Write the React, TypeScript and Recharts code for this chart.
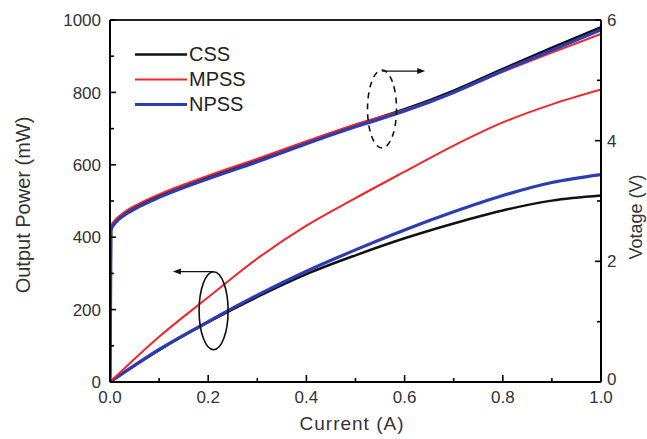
import React from "react";
import {
  LineChart,
  Line,
  XAxis,
  YAxis,
  ReferenceLine,
  ReferenceDot,
} from "recharts";

// Voltage curves (right axis), current in A
const vCurrent = [0, 0.002, 0.01, 0.03, 0.06, 0.1, 0.2, 0.3, 0.4, 0.5, 0.6, 0.7, 0.8, 0.9, 1.0];
const cssVoltage = [0, 2.56, 2.66, 2.8, 2.94, 3.09, 3.4, 3.68, 3.98, 4.26, 4.52, 4.83, 5.19, 5.54, 5.88];
const mpssVoltage = [0, 2.58, 2.68, 2.82, 2.96, 3.11, 3.42, 3.7, 3.99, 4.27, 4.51, 4.8, 5.14, 5.46, 5.77];
const npssVoltage = [0, 2.52, 2.63, 2.77, 2.91, 3.06, 3.37, 3.65, 3.95, 4.23, 4.49, 4.8, 5.16, 5.5, 5.84];

// Output power curves (left axis), mW
const pCurrent = [0, 0.1, 0.2, 0.3, 0.4, 0.5, 0.6, 0.7, 0.8, 0.9, 1.0];
const cssPower = [0, 88, 165, 235, 298, 350, 397, 438, 474, 501, 515];
const mpssPower = [0, 125, 234, 341, 432, 508, 581, 653, 717, 767, 808];
const npssPower = [0, 90, 167, 240, 306, 365, 420, 470, 515, 551, 573];

const xTicks = [0, 0.1, 0.2, 0.3, 0.4, 0.5, 0.6, 0.7, 0.8, 0.9, 1.0];
const powerTicks = [0, 100, 200, 300, 400, 500, 600, 700, 800, 900, 1000];
const voltTicks = [0, 1, 2, 3, 4, 5, 6];

const seriesNames = ["CSS", "MPSS", "NPSS"];
const COLORS = { CSS: "#111111", MPSS: "#f0262a", NPSS: "#2c3db3" };
const WIDTHS = { CSS: 2.5, MPSS: 2, NPSS: 3.2 };

const FONT = "'Liberation Sans', Arial, sans-serif";
const TEXT = "#333";

const toPts = (xs: number[], ys: number[]) => xs.map((x, i) => ({ x, y: ys[i] }));

const LeftTick = (props: any) => {
  const { x, y, payload } = props;
  const v = payload.value;
  const major = v % 200 === 0;
  return (
    <g>
      <line x1={x} x2={x + (major ? 6 : 4)} y1={y} y2={y} stroke="#000" strokeWidth={1.6} />
      {major && (
        <text x={x - 9} y={y} dy="0.36em" textAnchor="end" fontSize={17} fontFamily={FONT} fill={TEXT}>
          {v}
        </text>
      )}
    </g>
  );
};

const RightTick = (props: any) => {
  const { x, y, payload } = props;
  const v = payload.value;
  const major = v % 2 === 0;
  return (
    <g>
      <line x1={x} x2={x - (major ? 6 : 4)} y1={y} y2={y} stroke="#000" strokeWidth={1.6} />
      {major && (
        <text x={x + 6} y={v === 0 ? y - 3 : y} dy="0.36em" textAnchor="start" fontSize={17} fontFamily={FONT} fill={TEXT}>
          {v}
        </text>
      )}
    </g>
  );
};

const BottomTick = (props: any) => {
  const { x, y, payload } = props;
  const v = payload.value;
  const major = Math.round(v * 10) % 2 === 0;
  return (
    <g>
      <line x1={x} x2={x} y1={y} y2={y - (major ? 7 : 4)} stroke="#000" strokeWidth={1.6} />
      {major && (
        <text x={x} y={y + 21} textAnchor="middle" fontSize={17} fontFamily={FONT} fill={TEXT}>
          {v.toFixed(1)}
        </text>
      )}
    </g>
  );
};

const ellipseShape = (dashed: boolean) => (props: any) => (
  <ellipse
    cx={props.cx}
    cy={props.cy}
    rx={14.5}
    ry={39}
    fill="none"
    stroke="#111"
    strokeWidth={1.6}
    strokeDasharray={dashed ? "6 5" : undefined}
  />
);

const arrowShape = (props: any) => {
  const { x1, y1, x2, y2 } = props;
  const dir = x2 > x1 ? 1 : -1;
  return (
    <g>
      <line x1={x1} y1={y1} x2={x2 - dir * 5} y2={y2} stroke="#111" strokeWidth={1.2} />
      <polygon
        points={`${x2},${y2} ${x2 - dir * 8},${y2 - 3} ${x2 - dir * 8},${y2 + 3}`}
        fill="#111"
      />
    </g>
  );
};

const LegendBox = () => (
  <div
    style={{
      position: "absolute",
      left: 135,
      top: 42,
      fontFamily: FONT,
      fontSize: 20,
      color: "#222",
    }}
  >
    {seriesNames.map((name) => (
      <div key={name} style={{ display: "flex", alignItems: "center", height: 25 }}>
        <svg width={54} height={25} style={{ display: "block" }}>
          <line
            x1={0}
            x2={52}
            y1={12.5}
            y2={12.5}
            stroke={(COLORS as any)[name]}
            strokeWidth={(WIDTHS as any)[name]}
          />
        </svg>
        <span style={{ lineHeight: "25px" }}>{name}</span>
      </div>
    ))}
  </div>
);

export default function App() {
  return (
    <div style={{ position: "absolute", left: 0, top: 0, width: 647, height: 439, background: "#fff" }}>
      <LineChart width={647} height={439} margin={{ top: 20, right: 0, left: 0, bottom: 0 }}>
        <XAxis
          dataKey="x"
          type="number"
          domain={[0, 1]}
          ticks={xTicks}
          tick={<BottomTick />}
          tickSize={0}
          tickMargin={0}
          tickLine={false}
          axisLine={{ stroke: "#000", strokeWidth: 2 }}
          height={57}
          allowDataOverflow
          label={{
            content: () => (
              <text x={352} y={430} textAnchor="middle" fontSize={19} fontFamily={FONT} fill={TEXT} letterSpacing={1}>
                Current (A)
              </text>
            ),
          }}
        />
        <YAxis
          yAxisId="left"
          dataKey="y"
          type="number"
          domain={[0, 1000]}
          ticks={powerTicks}
          tick={<LeftTick />}
          tickSize={0}
          tickMargin={0}
          tickLine={false}
          axisLine={{ stroke: "#000", strokeWidth: 2 }}
          width={110}
          label={{
            content: () => (
              <text
                x={30}
                y={205}
                transform="rotate(-90, 30, 205)"
                textAnchor="middle"
                fontSize={20}
                fontFamily={FONT}
                fill={TEXT}
              >
                Output Power (mW)
              </text>
            ),
          }}
        />
        <YAxis
          yAxisId="right"
          orientation="right"
          dataKey="y"
          type="number"
          domain={[0, 6]}
          ticks={voltTicks}
          tick={<RightTick />}
          tickSize={0}
          tickMargin={0}
          tickLine={false}
          axisLine={{ stroke: "#000", strokeWidth: 2 }}
          width={46}
          label={{
            content: () => (
              <text
                x={642}
                y={217}
                transform="rotate(-90, 642, 217)"
                textAnchor="middle"
                fontSize={18}
                fontFamily={FONT}
                fill={TEXT}
              >
                Votage (V)
              </text>
            ),
          }}
        />
        <ReferenceLine yAxisId="left" y={1000} stroke="#222" strokeWidth={2} />

        {/* output power (left axis) */}
        <Line yAxisId="left" data={toPts(pCurrent, cssPower)} dataKey="y" type="monotone" stroke={COLORS.CSS} strokeWidth={WIDTHS.CSS} dot={false} isAnimationActive={false} name="CSS" />
        <Line yAxisId="left" data={toPts(pCurrent, npssPower)} dataKey="y" type="monotone" stroke={COLORS.NPSS} strokeWidth={WIDTHS.NPSS} dot={false} isAnimationActive={false} name="NPSS" />
        <Line yAxisId="left" data={toPts(pCurrent, mpssPower)} dataKey="y" type="monotone" stroke={COLORS.MPSS} strokeWidth={WIDTHS.MPSS} dot={false} isAnimationActive={false} name="MPSS" />

        {/* voltage (right axis) */}
        <Line yAxisId="right" data={toPts(vCurrent, cssVoltage)} dataKey="y" type="monotone" stroke={COLORS.CSS} strokeWidth={WIDTHS.CSS} dot={false} isAnimationActive={false} />
        <Line yAxisId="right" data={toPts(vCurrent, mpssVoltage)} dataKey="y" type="monotone" stroke={COLORS.MPSS} strokeWidth={WIDTHS.MPSS} dot={false} isAnimationActive={false} />
        <Line yAxisId="right" data={toPts(vCurrent, npssVoltage)} dataKey="y" type="monotone" stroke={COLORS.NPSS} strokeWidth={WIDTHS.NPSS} dot={false} isAnimationActive={false} />

        {/* annotations */}
        <ReferenceDot yAxisId="left" x={0.211} y={197} shape={ellipseShape(false)} />
        <ReferenceLine
          yAxisId="left"
          segment={[{ x: 0.211, y: 305 }, { x: 0.128, y: 305 }]}
          shape={arrowShape}
        />
        <ReferenceDot yAxisId="left" x={0.554} y={754} shape={ellipseShape(true)} />
        <ReferenceLine
          yAxisId="left"
          segment={[{ x: 0.554, y: 859 }, { x: 0.642, y: 859 }]}
          shape={arrowShape}
        />
      </LineChart>
      <LegendBox />
    </div>
  );
}
